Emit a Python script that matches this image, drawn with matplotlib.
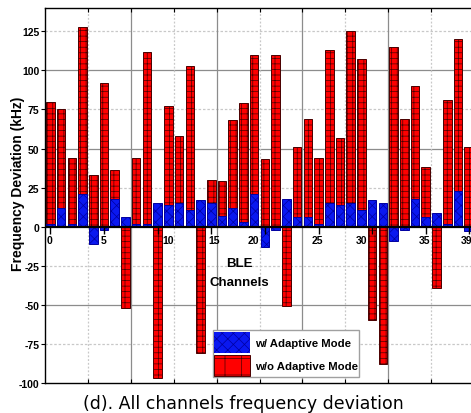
"""BLE: desviación de frecuencia en todos los canales."""

import matplotlib

matplotlib.use("Agg")

import matplotlib.pyplot as plt
import numpy as np
from matplotlib.patches import Patch

# datos (kHz)
canales = np.arange(40)
sin_adaptativo = [80, 75, 44, 128, 33, 92, 36, -52, 44, 112,
                  -97, 77, 58, 103, -81, 30, 29, 68, 79, 110,
                  43, 110, -51, 51, 69, 44, 113, 57, 125, 107,
                  -60, -88, 115, 69, 90, 38, -39, 81, 120, 51]
con_adaptativo = [2, 12, 2, 21, -11, -2, 18, 6, 2, 2,
                  15, 14, 15, 11, 17, 15, 7, 12, 3, 21,
                  -13, -2, 18, 6, 6, 2, 15, 14, 15, 11,
                  17, 15, -9, -2, 18, 6, 9, 2, 23, -3]
canales_marcados = [0, 5, 10, 15, 20, 25, 30, 35, 39]
etiquetas_canal = ["0", "5", "10", "15", "20", "25", "30", "35", "39"]
# posición (en canales) donde aparece cada número en el original
pos_etiquetas = [-0.1, 5.0, 11.0, 15.3, 18.9, 24.9, 29.0, 34.9, 38.8]
etiquetas_y = np.arange(-100, 126, 25)

plt.rcParams["hatch.linewidth"] = 0.5
FUENTE = "Liberation Sans"
ROJO, BORDE_ROJO = "#ff0000", "#4a0000"
AZUL, BORDE_AZUL = "#0a18f0", "#0000a0"

fig = plt.figure(figsize=(4.71, 4.14), dpi=100)
ax = fig.add_axes([0.0955, 0.0725, 0.911, 0.906])

ax.bar(canales, sin_adaptativo, width=0.8, color=ROJO, edgecolor=BORDE_ROJO,
       hatch="+++", linewidth=0.7, zorder=2)
ax.bar(canales, con_adaptativo, width=0.8, color=AZUL, edgecolor=BORDE_AZUL,
       hatch="xxx", linewidth=0.7, zorder=3)

ax.set_xlim(-0.5, 39.5)
ax.set_ylim(-100, 140)

# rejilla: continua cada 50 / cada 8 canales, punteada en medio
for v in etiquetas_y:
    if v in (0, -100):
        continue
    if v % 50 == 0:
        ax.axhline(v, color="#8c8c8c", lw=0.9, zorder=0)
    else:
        ax.axhline(v, color="#c8c8c8", lw=0.9, ls=(0, (2, 1.5)), zorder=0)
lineas_v = np.arange(3.5, 39.5, 4)
for i, x in enumerate(lineas_v):
    if i % 2 == 1:
        ax.axvline(x, color="#8c8c8c", lw=0.9, zorder=0)
    else:
        ax.axvline(x, color="#c8c8c8", lw=0.9, ls=(0, (1.5, 1.5)), zorder=0)

ax.axhline(0, color="black", lw=1.6, zorder=5)

ax.set_xticks(lineas_v)
ax.tick_params(axis="x", direction="in", length=3, top=True, bottom=True,
               labelbottom=False)
ax.set_yticks(etiquetas_y)
ax.set_yticklabels([str(v) for v in etiquetas_y], fontsize=7.5,
                   fontweight="bold", family=FUENTE)
ax.tick_params(axis="y", direction="out", length=3, pad=1)
for lado in ["left", "bottom", "top"]:
    ax.spines[lado].set_linewidth(1.0)
ax.spines["right"].set_visible(False)

# marcas de canal sobre la línea cero
sec = ax.secondary_xaxis(0, transform=ax.transData)
sec.set_xticks(canales_marcados)
sec.set_xticklabels([])
sec.tick_params(direction="out", length=5, width=1.0)
sec.spines["bottom"].set_visible(False)
sec.set_zorder(6)
for x, txt in zip(pos_etiquetas, etiquetas_canal):
    ax.text(x, -5, txt, ha="center", va="top", fontsize=7.5,
            fontweight="bold", family=FUENTE, zorder=6)

ax.text(17.6, -29.5, "BLE\nChannels", ha="center", va="center", fontsize=9.5,
        fontweight="bold", family=FUENTE, linespacing=1.75)

fig.text(0.038, 0.556, "Frequency Deviation (kHz)", rotation=90, ha="center",
         va="center", fontsize=10, fontweight="bold", family=FUENTE)

manijas = [
    Patch(facecolor=AZUL, edgecolor=BORDE_AZUL, hatch="xxx", linewidth=0),
    Patch(facecolor=ROJO, edgecolor=BORDE_ROJO, hatch="+", linewidth=0.7),
]
ley = ax.legend(manijas, ["w/ Adaptive Mode", "w/o Adaptive Mode"],
                loc="lower left", bbox_to_anchor=(0.452, 0.087),
                bbox_transform=fig.transFigure, fancybox=False,
                edgecolor="#a0a0a0", framealpha=1, borderpad=0.1,
                handlelength=3.2, handleheight=2.5, handletextpad=0.4,
                labelspacing=0.15, borderaxespad=0,
                prop={"family": FUENTE, "weight": "bold", "size": 8.2})
ley.set_zorder(7)

fig.text(0.516, 0.024, "(d). All channels frequency deviation", ha="center",
         va="center", fontsize=12.5, family="DejaVu Sans")

fig.savefig("out.png", dpi=100)
